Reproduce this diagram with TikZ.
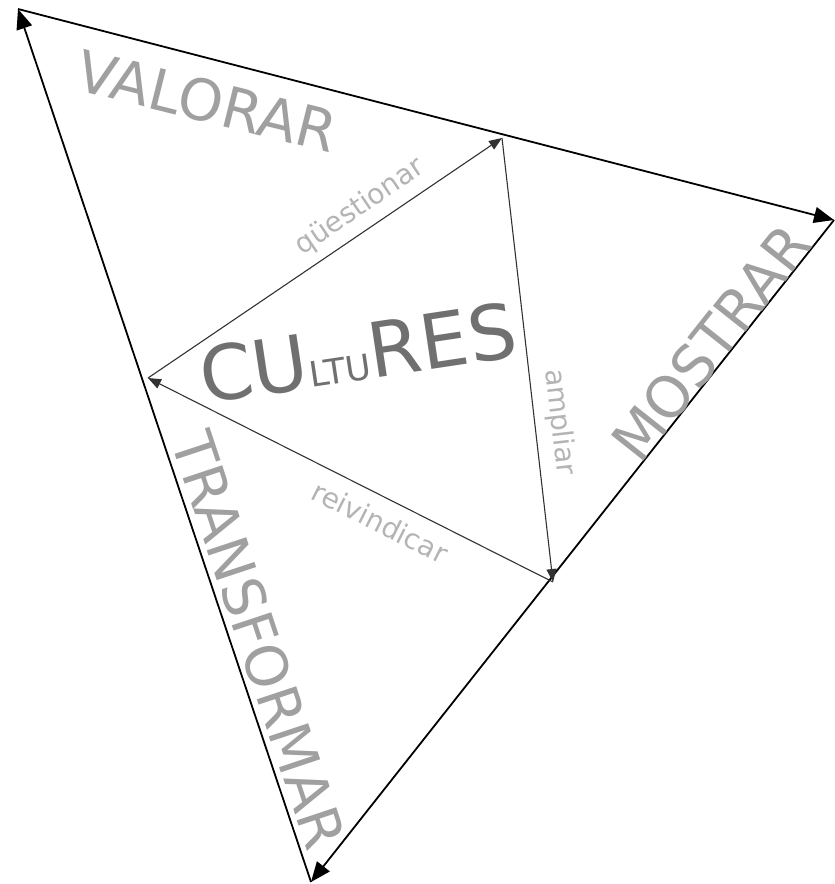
\documentclass[tikz,border=0pt]{standalone}
\usepackage{fontspec}
\setmainfont{DejaVu Sans}
\usetikzlibrary{arrows.meta}
\definecolor{biggray}{RGB}{160,160,160}
\definecolor{centgray}{RGB}{112,112,112}
\definecolor{smallgray}{RGB}{180,180,180}
\definecolor{innerline}{RGB}{50,50,50}
\tikzset{
  outerarrow/.style={line width=1.8pt, black, -{Triangle[length=20pt,width=16pt]}},
  innerarrow/.style={line width=1.1pt, innerline, -{Triangle[length=13pt,width=10pt]}},
  bigword/.style={inner sep=0pt, text=biggray, font=\fontsize{57}{60}\selectfont},
  smallword/.style={inner sep=0pt, text=smallgray, font=\fontsize{28}{30}\selectfont},
  centword/.style={inner sep=0pt, text=centgray}
}
\begin{document}
\begin{tikzpicture}[x=1pt,y=-1pt]
\useasboundingbox (0,0) rectangle (835,884);
% outer vertices
\coordinate (TL) at (18,9);
\coordinate (R) at (834,220);
\coordinate (B) at (311,882);
% inner vertices
\coordinate (IT) at (502,138);
\coordinate (IL) at (148,378);
\coordinate (IB) at (553,582);
% outer triangle
\draw[outerarrow] (B) -- (TL);
\draw[outerarrow] (TL) -- (R);
\draw[outerarrow] (R) -- (B);
% inner triangle
\draw[innerarrow] (IL) -- (IT);
\draw[innerarrow] (IT) -- (IB);
\draw[innerarrow] (IB) -- (IL);
% big words
\node[bigword, rotate=-14] (valorar) at (207,101) {VALORAR};
\node[bigword, rotate=51.6] (mostrar) at (711,343) {MOSTRAR};
\node[bigword, rotate=-71.6] (transformar) at (259,640) {TRANSFORMAR};
% small words
\node[smallword, rotate=34] (questionar) at (360,207) {qüestionar};
\node[smallword, rotate=-83.4] (ampliar) at (559,422) {ampliar};
\node[smallword, rotate=-26.7] (reivindicar) at (380,522) {reivindicar};
% center
\node[centword, rotate=8.5] (cultures) at (358,353)
  {{\fontsize{76}{80}\selectfont CU}{\fontsize{35}{40}\selectfont LTU}{\fontsize{76}{80}\selectfont RES}};
\end{tikzpicture}
\end{document}
